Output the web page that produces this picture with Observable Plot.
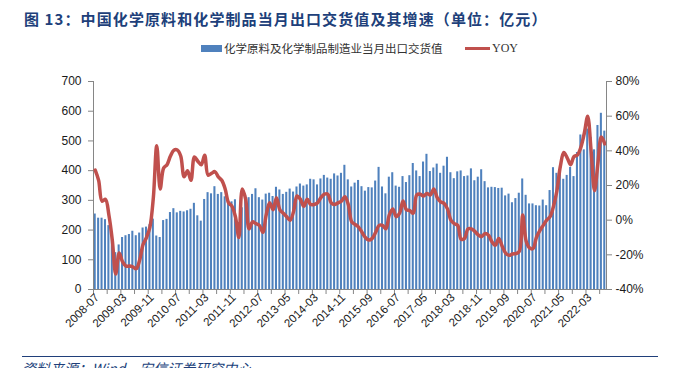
<!DOCTYPE html>
<html>
<head>
<meta charset="utf-8">
<script src="https://cdn.jsdelivr.net/npm/d3@7"></script>
<script src="https://cdn.jsdelivr.net/npm/@observablehq/plot@0.6"></script>
<style>
  html, body { margin: 0; padding: 0; background: #fff; }
  #wrap { position: relative; width: 674px; height: 368px; overflow: hidden; background: #fff; }
  #title { position: absolute; left: 24px; top: 9px; font-family: "Noto Sans CJK SC", sans-serif; font-weight: bold; font-size: 15px; letter-spacing: 1.1px; color: #203F7A; white-space: nowrap; line-height: 20px; }
  #legend { position: absolute; left: 0; top: 39px; width: 674px; height: 18px; font-family: "Noto Sans CJK SC", serif; font-size: 11.5px; color: #333; }
  .sw { position: absolute; }
  .lt { position: absolute; top: 0; line-height: 18px; white-space: nowrap; }
  .plot { position: absolute; left: 0; top: 55px; }
  #foot-line { position: absolute; left: 22px; top: 356px; width: 636px; height: 0; border-top: 1.5px solid #203F7A; }
  #foot { position: absolute; left: 22px; top: 360px; font-family: "Noto Sans CJK SC", sans-serif; font-style: italic; font-size: 14px; line-height: 16px; color: #203F7A; white-space: nowrap; }
</style>
</head>
<body>
<div id="wrap">
  <div id="title">图 13：中国化学原料和化学制品当月出口交货值及其增速（单位：亿元）</div>
  <div id="legend">
    <div class="sw" style="left:201px; top:6px; width:21px; height:7px; background:#4F81BD;"></div>
    <div class="lt" style="left:224px;">化学原料及化学制品制造业当月出口交货值</div>
    <div class="sw" style="left:465px; top:8px; width:25px; height:3px; background:#C0504D;"></div>
    <div class="lt" style="left:492px; font-family:'Liberation Serif', serif; font-size:12px;">YOY</div>
  </div>
  <div id="bars" class="plot"></div>
  <div id="line" class="plot"></div>
  <div id="foot-line"></div>
  <div id="foot">资料来源：Wind，安信证券研究中心</div>
</div>
<script>
const months = [
  "2008-07","2008-08","2008-09","2008-10","2008-11","2008-12",
  "2009-01","2009-02","2009-03","2009-04","2009-05","2009-06","2009-07","2009-08","2009-09","2009-10","2009-11","2009-12",
  "2010-01","2010-02","2010-03","2010-04","2010-05","2010-06","2010-07","2010-08","2010-09","2010-10","2010-11","2010-12",
  "2011-01","2011-02","2011-03","2011-04","2011-05","2011-06","2011-07","2011-08","2011-09","2011-10","2011-11","2011-12",
  "2012-01","2012-02","2012-03","2012-04","2012-05","2012-06","2012-07","2012-08","2012-09","2012-10","2012-11","2012-12",
  "2013-03","2013-04","2013-05","2013-06","2013-07","2013-08","2013-09","2013-10","2013-11","2013-12",
  "2014-03","2014-04","2014-05","2014-06","2014-07","2014-08","2014-09","2014-10","2014-11","2014-12",
  "2015-03","2015-04","2015-05","2015-06","2015-07","2015-08","2015-09","2015-10","2015-11","2015-12",
  "2016-03","2016-04","2016-05","2016-06","2016-07","2016-08","2016-09","2016-10","2016-11","2016-12",
  "2017-03","2017-04","2017-05","2017-06","2017-07","2017-08","2017-09","2017-10","2017-11","2017-12",
  "2018-03","2018-04","2018-05","2018-06","2018-07","2018-08","2018-09","2018-10","2018-11","2018-12",
  "2019-03","2019-04","2019-05","2019-06","2019-07","2019-08","2019-09","2019-10","2019-11","2019-12",
  "2020-03","2020-04","2020-05","2020-06","2020-07","2020-08","2020-09","2020-10","2020-11","2020-12",
  "2021-03","2021-04","2021-05","2021-06","2021-07","2021-08","2021-09","2021-10","2021-11","2021-12",
  "2022-03","2022-04","2022-05","2022-06","2022-07","2022-08"
];

const exportValue = [
  254,240,240,235,215,190,
  124,150,175,181,185,196,181,190,207,210,218,237,
  180,175,232,236,259,272,258,263,261,265,270,290,
  248,230,303,326,322,346,320,326,312,297,295,302,
  225,275,316,309,320,339,309,301,321,324,313,344,
  335,320,327,338,328,345,355,348,352,371,
  369,352,372,384,375,371,389,382,391,418,
  369,345,358,367,346,331,343,342,365,411,
  345,322,378,393,348,344,380,360,383,424,
  399,380,429,455,397,409,422,391,415,445,
  393,373,396,399,380,382,406,366,378,403,
  363,342,344,343,340,341,315,321,292,306,
  324,372,317,288,288,282,281,301,282,333,
  410,391,402,371,384,411,380,461,520,470,
  540,512,470,552,593,533
];

const yoy = [
  28.9,23,11,12,3,-11.5,
  -31,-19,-24,-26.5,-26.5,-27,-28,-23,-14,-10,-4,13,
  43,18,30,32,37,40.4,40.5,37,25,28.5,23,36.5,
  34,32,37.5,26,27,28,25,23,18,10,8,2,
  -10,18,12,-5,-1,-2,-3,-7,3,10,6,13,
  6,4,2,0,5,14,12,8,12,9,
  9,10,13,15,15,10,9,10,11,13.5,
  9,-1,-2.5,-4,-7,-10,-11.5,-10.5,-7,-3,
  -3,-5,3,6.5,2,4,11,6,5.5,4,
  14.5,15,14,15.4,14.5,18,13,10.6,9.7,6.5,
  0,-2,-3,-11,-10.5,-5,-5,-6.5,-8.5,-9.5,
  -7.7,-8.7,-12.5,-14.5,-10.6,-15,-19,-20.3,-19.5,-19.3,
  -18,3,-12,-16,-16.4,-10,-6,-3,0,2,
  8,17,31,39,36,32,36.7,37.6,42,50,
  60,40,17,33,48,44
];

const tickLabels = ["2008-07","2009-03","2009-11","2010-07","2011-03","2011-11","2012-07","2013-05","2014-03","2014-11","2015-09","2016-07","2017-05","2018-03","2018-11","2019-09","2020-07","2021-05","2022-03"];
const valueTicks = [0,100,200,300,400,500,600,700];
const pctTicks = [-40,-20,0,20,40,60,80];

const data = months.map((m, i) => ({month: m, value: exportValue[i], yoy: yoy[i]}));
const minorTicks = months.filter((m, i) => i % 4 === 0);

const W = 674, H = 300;
const margins = {marginTop: 26, marginBottom: 66, marginLeft: 93, marginRight: 68};
const step = (W - margins.marginLeft - margins.marginRight) / (months.length - 0.4 + 0.4);
const xScale = {type: "band", domain: months, paddingInner: 0.4, paddingOuter: 0.2};
const axisColor = "#868686";
const font = "'Liberation Sans', Arial, sans-serif";

const bars = Plot.plot({
  width: W, height: H, ...margins,
  style: {fontFamily: font, fontSize: "12px", color: "#1a1a1a", background: "transparent"},
  x: {...xScale, axis: null},
  y: {domain: [0, 700], axis: null},
  marks: [
    Plot.barY(data, {x: "month", y: "value", fill: "#4F81BD"}),
    Plot.frame({anchor: "left", stroke: axisColor}),
    Plot.ruleY([0], {stroke: axisColor}),
    Plot.axisY(valueTicks, {anchor: "left", tickSize: 5, tickPadding: 7, stroke: axisColor, fill: "#1a1a1a", fontSize: 12, label: null}),
    Plot.axisX(minorTicks, {anchor: "bottom", tickSize: 5, dx: -step / 2, text: null, stroke: axisColor, label: null}),
    Plot.axisX(tickLabels, {anchor: "bottom", tickSize: 0, tickPadding: 6, tickRotate: -45, dx: 2, fontSize: 11.5, fill: "#1a1a1a", label: null})
  ]
});
document.getElementById("bars").appendChild(bars);

const line = Plot.plot({
  width: W, height: H, ...margins,
  style: {fontFamily: font, fontSize: "12px", color: "#1a1a1a", background: "transparent"},
  x: {...xScale, axis: null},
  y: {domain: [-40, 80], axis: null},
  marks: [
    Plot.line(data, {x: "month", y: "yoy", stroke: "#C0504D", strokeWidth: 3.5, curve: "catmull-rom", strokeLinejoin: "round"}),
    Plot.frame({anchor: "right", stroke: axisColor}),
    Plot.axisY(pctTicks, {anchor: "right", tickSize: 5, tickPadding: 4, stroke: axisColor, fill: "#1a1a1a", fontSize: 12, tickFormat: d => d + "%", label: null})
  ]
});
document.getElementById("line").appendChild(line);
</script>
</body>
</html>
